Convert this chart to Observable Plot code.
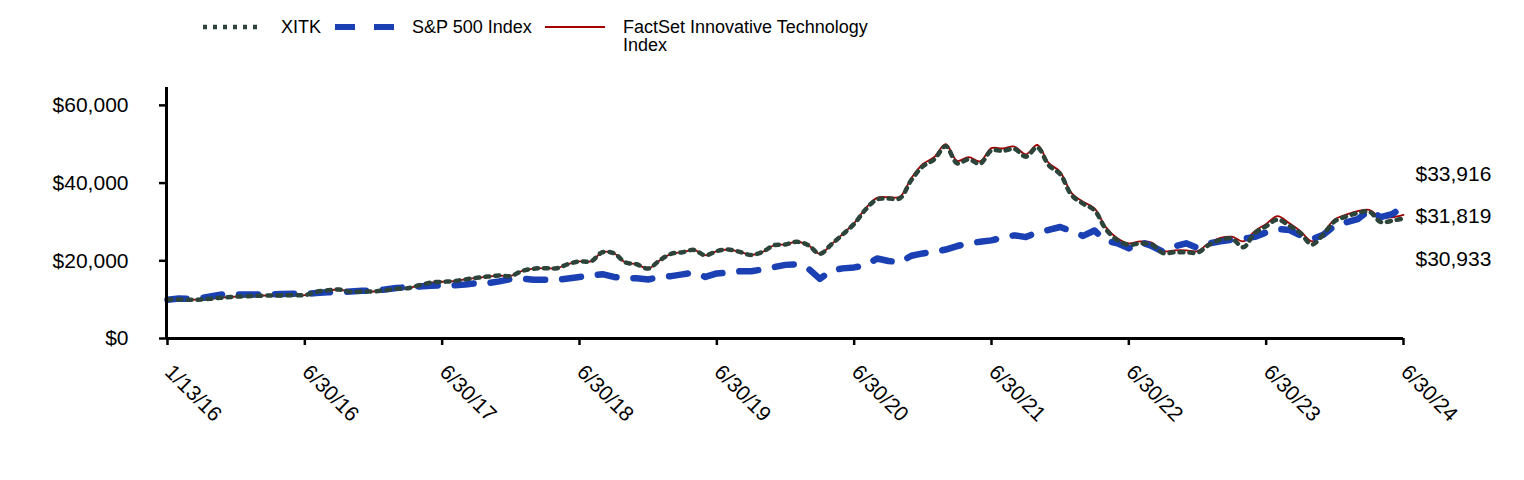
<!DOCTYPE html>
<html>
<head>
<meta charset="utf-8">
<script src="https://cdn.jsdelivr.net/npm/d3@7"></script>
<script src="https://cdn.jsdelivr.net/npm/@observablehq/plot@0.6"></script>
<style>
  html, body { margin: 0; padding: 0; background: #fff; overflow: hidden; }
  #wrap { position: relative; width: 1524px; height: 480px; font-family: "Liberation Sans", Arial, sans-serif; }
  #legend { position: absolute; left: 0; top: 0; width: 1524px; height: 70px; }
  .lg-text { position: absolute; font-size: 18px; line-height: 18px; color: #000; white-space: nowrap; }
  .lg-sw { position: absolute; }
  #chart { position: absolute; left: 0; top: 70px; }
</style>
</head>
<body>
<div id="wrap">
  <div id="legend"></div>
  <div id="chart"></div>
</div>
<script>
// ---- Data (growth of $10,000) ----
const seriesNames = ["XITK", "S&P 500 Index", "FactSet Innovative Technology Index"];
const tickLabels = ["1/13/16", "6/30/16", "6/30/17", "6/30/18", "6/30/19", "6/30/20", "6/30/21", "6/30/22", "6/30/23", "6/30/24"];

const xitk = [
  10000, 10040, 9970, 10050, 10300, 10570, 10770, 10880, 11000, 11080, 11100, 11160,
  11160, 12000, 12400, 12600, 12000, 12100, 12100, 12400, 12800, 12950, 13700, 14400,
  14600, 14740, 15200, 15600, 15950, 16200, 16100, 17400, 17960, 18100, 18070, 19150,
  19850, 19850, 22200, 21950, 19600, 19100, 18000, 20100, 21800, 22200, 22800, 21400,
  22500, 22900, 22300, 21500, 22300, 24000, 24200, 24900, 24000, 21800, 24200, 26800,
  29500, 33200, 35800, 36000, 36100, 40800, 44300, 46100, 49500, 45100, 46100, 45000,
  48400, 48300, 48800, 46800, 49200, 44600, 42300, 36900, 34700, 33000, 28100, 25300,
  24100, 24500, 24200, 22000, 22200, 22200, 22100, 24100, 25400, 25700, 23500, 27100,
  28900, 30600, 29100, 27100, 24200, 26800, 30200, 31400, 32300, 32700, 30000, 30300,
  30933
];
const sp500 = [
  10000, 10300, 10200, 10400, 10950, 11450, 11300, 11350, 11350, 11400, 11450, 11500,
  11500, 11700, 11900, 11950, 12100, 12300, 12350, 12600, 13000, 13200, 13400, 13600,
  13650, 13700, 13900, 14250, 14250, 14700, 15300, 15450, 15100, 15100, 15100, 15450,
  15850, 16200, 16550, 15850, 15600, 15500, 15200, 15800, 16050, 16500, 17000, 15850,
  16750, 17000, 17300, 17300, 17800, 18400, 18950, 19100, 18000, 15350, 17500, 18050,
  18300, 18800, 20600, 19950, 19600, 21300, 21900, 22300, 22900, 23800, 24500, 24900,
  25250, 26000, 26550, 26100, 27300, 27950, 28700, 27600, 26400, 27800, 25100, 24500,
  23200, 24900, 23800, 22300, 23700, 24500, 23300, 24500, 25000, 25400, 25700, 26150,
  27300, 28200, 27950, 26550, 25500, 26700, 29100, 29900, 30700, 33000, 31250, 32000,
  33916
];
const factset = [
  10000, 10040, 9970, 10050, 10300, 10570, 10770, 10880, 11000, 11080, 11100, 11160,
  11160, 12000, 12400, 12600, 12000, 12100, 12100, 12400, 12800, 12950, 13700, 14400,
  14600, 14740, 15200, 15600, 15950, 16200, 16100, 17400, 17960, 18100, 18070, 19150,
  19850, 19850, 22200, 21950, 19600, 19100, 18000, 20100, 21800, 22200, 22800, 21400,
  22500, 22900, 22300, 21500, 22300, 24000, 24200, 24900, 24000, 21800, 24200, 26900,
  29700, 33500, 36200, 36400, 36500, 41300, 44900, 46700, 50000, 45700, 46700, 45600,
  49000, 48900, 49400, 47400, 49800, 45200, 42900, 37400, 35200, 33500, 28600, 25800,
  24500, 25000, 24700, 22500, 22700, 22700, 22500, 24600, 25900, 26200, 25000, 27600,
  29500, 31500, 29700, 27600, 25000, 27300, 30700, 31900, 32800, 33100, 31200, 31200,
  31819
];

// ---- Colors / styles ----
const cXitk = "#2d443a", cSp = "#1a40b4", cFs = "#a40000";

// table built from arrays
const rows = xitk.map((v, i) => ({i, xitk: v, sp: sp500[i], fs: factset[i]}));
const last = rows.length - 1;
const tickIdx = tickLabels.map((_, k) => k * 12);
const fmt = d3.format("$,.0f");

// ---- Legend ----
const legend = document.getElementById("legend");
function addSvgSwatch(left, width, stroke, sw, dash) {
  const ns = "http://www.w3.org/2000/svg";
  const s = document.createElementNS(ns, "svg");
  s.setAttribute("width", width); s.setAttribute("height", 12);
  s.setAttribute("class", "lg-sw");
  s.style.left = left + "px"; s.style.top = "21px";
  const l = document.createElementNS(ns, "line");
  l.setAttribute("x1", 0); l.setAttribute("x2", width);
  l.setAttribute("y1", 6); l.setAttribute("y2", 6);
  l.setAttribute("stroke", stroke); l.setAttribute("stroke-width", sw);
  if (dash) l.setAttribute("stroke-dasharray", dash);
  s.appendChild(l);
  legend.appendChild(s);
}
function addText(left, top, html) {
  const d = document.createElement("div");
  d.className = "lg-text";
  d.style.left = left + "px"; d.style.top = top + "px";
  d.innerHTML = html;
  legend.appendChild(d);
}
addSvgSwatch(203, 56, cXitk, 4.5, "4,6");
addText(281, 18, seriesNames[0]);
addSvgSwatch(335, 59, cSp, 6, "20,19");
addText(412, 18, seriesNames[1]);
addSvgSwatch(545, 60, cFs, 1.8, null);
addText(623, 18, "FactSet Innovative Technology<br>Index");

// ---- Chart ----
const chart = Plot.plot({
  width: 1524,
  height: 410,
  marginLeft: 167,
  marginRight: 121,
  marginTop: 17,
  marginBottom: 142,
  style: {fontFamily: "'Liberation Sans', Arial, sans-serif", fontSize: "21px", color: "#000", background: "#fff"},
  x: {type: "linear", domain: [0, last]},
  y: {domain: [0, 64600]},
  marks: [
    Plot.axisY({ticks: [0, 20000, 40000, 60000], tickFormat: fmt, tickSize: 8, tickPadding: 31, fontSize: 21, strokeWidth: 2.5, label: null}),
    Plot.axisX({ticks: tickIdx, tickFormat: () => "", tickSize: 7, strokeWidth: 2.5, label: null}),
    Plot.text(tickIdx, {x: d => d, y: () => 0, text: (d, k) => tickLabels[k], rotate: 45, textAnchor: "start", dx: 1, dy: 30, fontSize: 21, fill: "#000"}),
    Plot.line(rows, {x: "i", y: "fs", stroke: cFs, strokeWidth: 1.8, curve: "catmull-rom"}),
    Plot.line(rows, {x: "i", y: "sp", stroke: cSp, strokeWidth: 6.5, strokeDasharray: "19,17"}),
    Plot.line(rows, {x: "i", y: "xitk", stroke: cXitk, strokeWidth: 4.5, strokeDasharray: "4,6", curve: "catmull-rom"}),
    Plot.ruleX([0], {stroke: "#000", strokeWidth: 3, dx: -1}),
    Plot.ruleY([0], {stroke: "#000", strokeWidth: 3}),
    Plot.text([rows[last]], {x: "i", y: "sp", text: d => fmt(d.sp), textAnchor: "start", dx: 12, dy: -32, fontSize: 21, fill: "#000"}),
    Plot.text([rows[last]], {x: "i", y: "fs", text: d => fmt(d.fs), textAnchor: "start", dx: 12, dy: 1, fontSize: 21, fill: "#000"}),
    Plot.text([rows[last]], {x: "i", y: "xitk", text: d => fmt(d.xitk), textAnchor: "start", dx: 12, dy: 41, fontSize: 21, fill: "#000"})
  ]
});
document.getElementById("chart").appendChild(chart);
</script>
</body>
</html>
